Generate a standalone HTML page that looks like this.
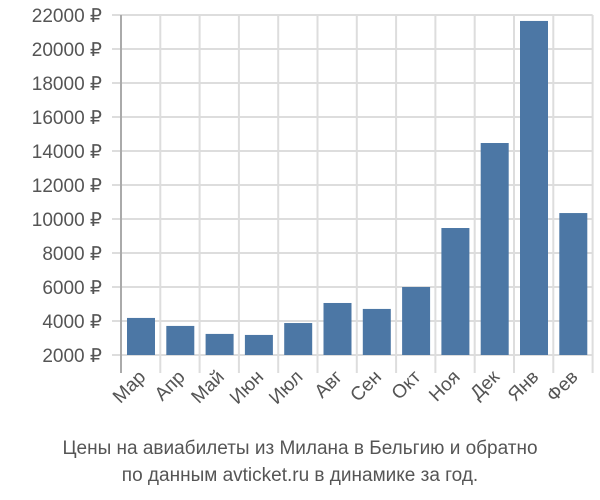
<!DOCTYPE html>
<html><head><meta charset="utf-8"><style>
body{margin:0;background:#fff;}
svg{display:block;font-family:"Liberation Sans",sans-serif;}
</style></head><body>
<svg id="chart" width="600" height="500" viewBox="0 0 600 500">
<g id="grid"></g>
<g id="bars"></g>
<g id="yticks"></g>
<g id="xticks"></g>
<text x="300" y="454" text-anchor="middle" font-size="19" fill="#555">Цены на авиабилеты из Милана в Бельгию и обратно</text>
<text x="300" y="481" text-anchor="middle" font-size="19" fill="#555">по данным avticket.ru в динамике за год.</text>
</svg>
<script>
const categories=["Мар","Апр","Май","Июн","Июл","Авг","Сен","Окт","Ноя","Дек","Янв","Фев"];
const values=[4180,3710,3240,3180,3880,5060,4710,6000,9470,14470,21650,10350];
const yTicks=[2000,4000,6000,8000,10000,12000,14000,16000,18000,20000,22000];
const NS="http://www.w3.org/2000/svg";
const x0=121,band=39.3,yMin=2000,yMax=22000,yTop=15,yBot=355;
function y(v){return yBot-(v-yMin)/(yMax-yMin)*(yBot-yTop);}
function xb(i){return x0+i*band;}
function mk(t,a,p){const e=document.createElementNS(NS,t);for(const k in a)e.setAttribute(k,a[k]);p.appendChild(e);return e;}
const grid=document.getElementById('grid'),bars=document.getElementById('bars'),yt=document.getElementById('yticks'),xt=document.getElementById('xticks');
yTicks.forEach(v=>{
 const l=mk('line',{x1:112,x2:xb(categories.length),y1:y(v),y2:y(v),stroke:'#ddd','stroke-width':2},grid);
 
 
 const t=mk('text',{x:102,y:y(v)+7,'text-anchor':'end','font-size':19,fill:'#555'},yt);
 t.textContent=v+' ₽';
 
 
});
for(let i=1;i<=categories.length;i++){
 const l=mk('line',{x1:xb(i),x2:xb(i),y1:yTop,y2:373,stroke:'#ddd','stroke-width':2},grid);
 
 
}
const ax=mk('line',{x1:x0,x2:x0,y1:yTop,y2:373,stroke:'#aaa','stroke-width':2},grid);


categories.forEach((c,i)=>{
 const r=mk('rect',{x:xb(i)+6,y:y(values[i]),width:28,height:yBot-y(values[i]),fill:'#4c77a5'},bars);
 
 
 const cx=xb(i)+band/2+6, cy=378;
 const t=mk('text',{x:cx,y:cy,'text-anchor':'end','font-size':19,fill:'#555',transform:`rotate(-45 ${cx} ${cy})`},xt);
 t.textContent=c;
 
 
});
</script>
</body></html>
